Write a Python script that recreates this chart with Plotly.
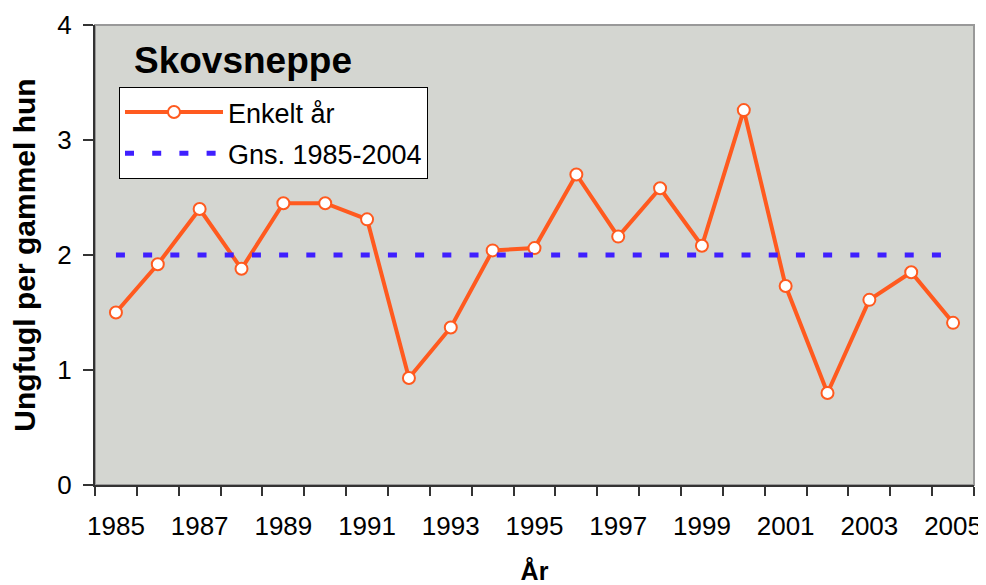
import plotly.graph_objects as go

years = list(range(1985, 2006))
values = [1.50, 1.92, 2.40, 1.88, 2.45, 2.45, 2.31, 0.93, 1.37, 2.04, 2.06,
          2.70, 2.16, 2.58, 2.08, 3.26, 1.73, 0.80, 1.61, 1.85, 1.41]
avg_years = [1985, 2005]
avg_values = [2.0, 2.0]
tick_years = list(range(1985, 2006, 2))
tick_labels = [str(y) for y in tick_years]

series_name = "Enkelt år"
avg_name = "Gns. 1985-2004"
title_text = "Skovsneppe"
y_title = "Ungfugl per gammel hun"
x_title = "År"

ORANGE = "#FF5A1F"
BLUE = "#3F1FFF"
BG = "#D4D6D1"
FONT = "Liberation Sans, Arial, sans-serif"

# page has an 8px body margin; figure sized so the plot area lands at x 95-974, y 25-485
W, H = 978, 577
ML, MT, MR, MB = 87, 17, 12, 100
PW = W - ML - MR
PH = H - MT - MB

fig = go.Figure()
fig.add_trace(go.Scatter(
    x=years, y=values, name=series_name, mode="lines+markers",
    line=dict(color=ORANGE, width=4),
    marker=dict(symbol="circle", size=12, color="white", line=dict(color=ORANGE, width=2)),
    legendgroup="a",
))
fig.add_trace(go.Scatter(
    x=avg_years, y=avg_values, name=avg_name, mode="lines",
    line=dict(color=BLUE, width=5, dash="9px,18.2px"),
    legendgroup="b",
))

fig.update_layout(
    width=W, height=H,
    margin=dict(l=ML, r=MR, t=MT, b=MB),
    paper_bgcolor="white", plot_bgcolor=BG,
    font=dict(family=FONT, size=26, color="black"),
    showlegend=True,
    legend=dict(
        x=(119 - 95) / PW, y=1 - (87 - 25) / PH, yanchor="top", xanchor="left",
        bgcolor="white", bordercolor="black", borderwidth=1,
        font=dict(family=FONT, size=27, color="black"),
        tracegroupgap=3, itemwidth=98,
    ),
    xaxis=dict(
        range=[1984.5, 2005.5], tickmode="array", tickvals=tick_years, ticktext=tick_labels,
        ticks="", showgrid=False, zeroline=False, showline=True, linecolor="#333", linewidth=2,
        tickfont=dict(size=26), ticklabelstandoff=17,
        minor=dict(tickmode="linear", tick0=1984.5, dtick=1, ticks="outside", ticklen=9,
                   tickwidth=1.5, tickcolor="#333", showgrid=False),
        title=dict(text=x_title, font=dict(size=25, family=FONT, weight="bold"), standoff=36),
        automargin=False,
    ),
    yaxis=dict(
        range=[0, 4], tickmode="array", tickvals=[0, 1, 2, 3, 4],
        ticks="outside", ticklen=10, tickwidth=1.5, tickcolor="#333",
        showgrid=False, zeroline=False, showline=True, linecolor="#333", linewidth=2,
        tickfont=dict(size=26), ticklabelstandoff=6,
        title=dict(text=y_title, font=dict(size=30, family=FONT, weight="bold"), standoff=16),
        automargin=False,
    ),
    shapes=[dict(type="rect", xref="paper", yref="paper", x0=0, x1=1, y0=0, y1=1,
                 line=dict(color="#999999", width=2), layer="below")],
    annotations=[dict(text="<b>" + title_text + "</b>", xref="paper", yref="paper",
                      x=(132 - 95) / PW, y=1 - (38 - 25) / PH, xanchor="left", yanchor="top",
                      showarrow=False, font=dict(size=37, family=FONT, color="black"))],
)

fig.write_html("out.html")
